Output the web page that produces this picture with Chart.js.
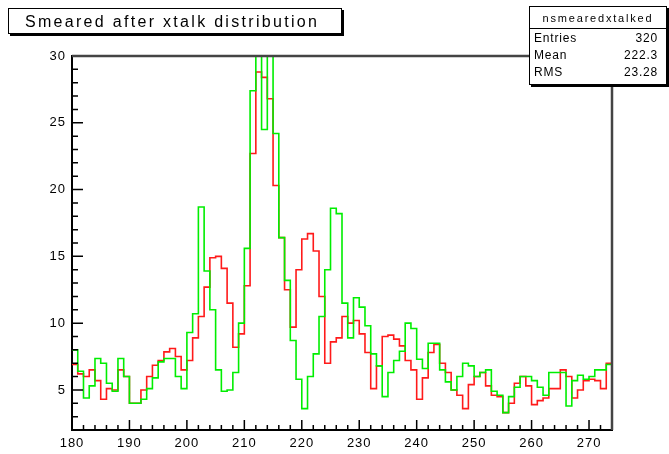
<!DOCTYPE html>
<html>
<head>
<meta charset="utf-8">
<script src="https://cdn.jsdelivr.net/npm/chart.js@4.4.1/dist/chart.umd.min.js"></script>
<style>
  body { margin: 0; background: #fff; }
  #wrap { position: relative; width: 669px; height: 454px; font-family: "Liberation Sans", Arial, sans-serif; color: #000; }
  #c { position: absolute; left: 0; top: 0; }
  .titlebox {
    position: absolute; left: 8px; top: 8px; width: 316px; height: 24px;
    padding-left: 16px; border: 1px solid #000; box-shadow: 2px 2px 0 #000;
    background: #fff; font-size: 16px; letter-spacing: 2.3px; line-height: 25px; white-space: nowrap;
  }
  .stats {
    position: absolute; left: 529px; top: 6px; width: 136px; height: 77px;
    border: 1px solid #000; box-shadow: 2px 2px 0 #000; background: #fff;
  }
  .stats .head {
    height: 21px; border-bottom: 1px solid #000; text-align: center;
    font-size: 11px; letter-spacing: 1.8px; line-height: 22px;
  }
  .stats .row { display: flex; justify-content: space-between; padding: 0 8px 0 4px; font-size: 12px; letter-spacing: 0.8px; height: 17px; line-height: 18px; }
</style>
</head>
<body>
<div id="wrap">
  <canvas id="c" width="669" height="454"></canvas>
  <div class="titlebox">Smeared after xtalk distribution</div>
  <div class="stats">
    <div class="head">nsmearedxtalked</div>
    <div class="row"><span>Entries</span><span>320</span></div>
    <div class="row"><span>Mean</span><span>222.3</span></div>
    <div class="row"><span>RMS</span><span>23.28</span></div>
  </div>
</div>
<script>
// histogram binning
const xMin = 180;
const xMax = 274;
const binWidth = 1;

// bin contents, one per bin from 180 to 274
const redCounts = [
  6.9, 6.2, 6.0, 6.5, 5.7, 4.3, 5.1, 5.0, 6.5, 6.0,
  4.0, 4.0, 5.0, 6.0, 6.85, 7.2, 7.85, 8.1, 7.5, 6.5,
  7.2, 8.9, 10.5, 12.7, 14.9, 15.0, 14.1, 11.5, 8.2, 9.2,
  12.8, 22.7, 28.8, 28.4, 26.8, 20.3, 16.4, 12.5, 9.7, 14.0,
  16.3, 16.7, 15.4, 12.0, 7.0, 8.6, 8.9, 10.5, 10.0, 10.2,
  9.2, 7.8, 5.1, 6.8, 9.0, 9.1, 8.8, 8.3, 7.2, 6.5,
  4.3, 5.9, 7.8, 8.4, 7.0, 6.3, 5.0, 4.6, 3.6, 5.4,
  6.0, 6.3, 5.3, 4.6, 4.5, 3.3, 4.0, 5.5, 6.0, 5.3,
  3.9, 4.2, 4.4, 5.1, 5.1, 6.5, 6.0, 4.4, 5.0, 5.7,
  5.8, 5.7, 5.1, 7.0
];
const greenCounts = [
  8.0, 6.4, 4.4, 5.3, 7.35, 7.0, 5.5, 4.9, 7.35, 6.0,
  4.0, 4.0, 4.3, 5.1, 5.9, 7.1, 7.35, 7.35, 6.0, 5.1,
  9.3, 10.7, 18.7, 13.9, 11.0, 6.5, 4.9, 5.0, 6.3, 10.0,
  15.6, 27.4, 31.0, 24.5, 31.0, 24.2, 16.4, 13.2, 8.7, 5.8,
  3.6, 6.0, 7.7, 10.5, 14.0, 18.6, 18.2, 11.5, 8.9, 11.9,
  11.2, 9.8, 7.7, 6.8, 4.5, 6.3, 7.2, 7.9, 10.0, 9.6,
  7.3, 6.6, 8.5, 8.5, 6.5, 5.6, 5.0, 6.0, 7.0, 6.8,
  6.0, 6.3, 6.5, 4.9, 4.6, 3.3, 4.5, 5.2, 6.0, 6.0,
  5.7, 5.2, 4.6, 6.3, 6.3, 6.3, 3.8, 5.7, 6.1, 5.8,
  6.0, 6.5, 6.5, 6.9
];

const xTicks = [180, 190, 200, 210, 220, 230, 240, 250, 260, 270];
const yTicks = [5, 10, 15, 20, 25, 30];
const yMin = 2;
const yMax = 30;

// turn bin contents into step points at the bin low edges
function toSteps(vals) {
  const pts = vals.map((v, i) => ({ x: xMin + i * binWidth, y: v }));
  pts.push({ x: xMin + vals.length * binWidth, y: vals[vals.length - 1] });
  return pts;
}

// ROOT style frame: inward ticks, top/right border
const rootFrame = {
  id: 'rootFrame',
  beforeDraw(chart) {
    chart.ctx.letterSpacing = '1px';
  },
  afterDraw(chart) {
    const ctx = chart.ctx;
    const a = chart.chartArea;
    const xs = chart.scales.x, ys = chart.scales.y;
    ctx.save();
    ctx.letterSpacing = '0px';
    ctx.strokeStyle = '#000';
    ctx.lineWidth = 1.5;
    ctx.beginPath();
    for (let v = xMin; v <= xMax; v += 2) {
      const px = xs.getPixelForValue(v);
      const len = v % 10 === 0 ? 10 : 5;
      ctx.moveTo(px, a.bottom);
      ctx.lineTo(px, a.bottom - len);
    }
    for (let v = 3; v <= yMax; v += 1) {
      const py = ys.getPixelForValue(v);
      const len = v % 5 === 0 ? 11 : 6;
      ctx.moveTo(a.left, py);
      ctx.lineTo(a.left + len, py);
    }
    ctx.stroke();
    ctx.strokeStyle = '#444';
    ctx.lineWidth = 2.5;
    ctx.beginPath();
    ctx.moveTo(a.left, a.top);
    ctx.lineTo(a.right, a.top);
    ctx.lineTo(a.right, a.bottom);
    ctx.stroke();
    ctx.restore();
  }
};

new Chart(document.getElementById('c'), {
  type: 'line',
  data: {
    datasets: [
      {
        label: 'xtalk',
        data: toSteps(greenCounts),
        borderColor: '#00ee00',
        borderWidth: 1.6,
        stepped: 'before',
        pointRadius: 0,
        fill: false,
        clip: 0
      },
      {
        label: 'smeared',
        data: toSteps(redCounts),
        borderColor: '#ff1a1a',
        borderWidth: 1.6,
        stepped: 'before',
        pointRadius: 0,
        fill: false,
        clip: 0
      }
    ]
  },
  options: {
    responsive: false,
    animation: false,
    layout: { padding: { top: 56, right: 57, left: 0, bottom: 0 } },
    plugins: {
      legend: { display: false },
      tooltip: { enabled: false },
      title: { display: false }
    },
    scales: {
      x: {
        type: 'linear',
        min: xMin,
        max: xMax,
        grid: { display: false, drawTicks: false },
        border: { display: true, color: '#000', width: 2 },
        afterBuildTicks: s => { s.ticks = xTicks.map(v => ({ value: v })); },
        afterFit: s => { s.height = 24; },
        ticks: {
          color: '#000',
          font: { family: '"Liberation Sans", Arial, sans-serif', size: 13 },
          padding: 6,
          maxRotation: 0,
          autoSkip: false
        }
      },
      y: {
        type: 'linear',
        min: yMin,
        max: yMax,
        grid: { display: false, drawTicks: false },
        border: { display: true, color: '#000', width: 2 },
        afterBuildTicks: s => { s.ticks = yTicks.map(v => ({ value: v })); },
        afterFit: s => { s.width = 72; },
        ticks: {
          color: '#000',
          font: { family: '"Liberation Sans", Arial, sans-serif', size: 13 },
          padding: 6
        }
      }
    }
  },
  plugins: [rootFrame]
});
</script>
</body>
</html>
